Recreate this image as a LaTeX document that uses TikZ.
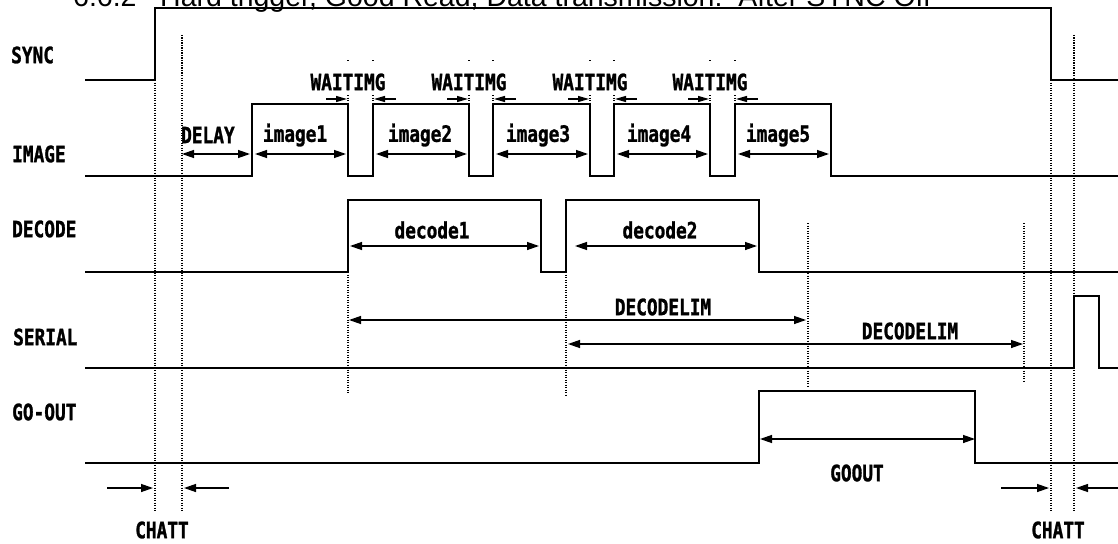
\documentclass[tikz,border=0pt]{standalone}
\usepackage{fontspec}
\usetikzlibrary{arrows.meta}
\newfontfamily\gfont[FakeStretch=0.79,FakeBold=1.2]{DejaVu Sans Mono}
\newfontfamily\tfont{Liberation Sans}
\begin{document}
\begin{tikzpicture}[x=1pt,y=-1pt,
  sig/.style={line width=1.5pt, line join=miter},
  dotl/.style={line width=1.25pt, dash pattern=on 1.2pt off 1.3pt},
  dim/.style={line width=1.3pt, {Triangle[length=12pt,width=8pt]}-{Triangle[length=12pt,width=8pt]}},
  rarr/.style={line width=1.3pt, -{Triangle[length=12pt,width=8pt]}},
  smarr/.style={line width=1.2pt, -{Triangle[length=11pt,width=6pt]}},
  lbl/.style={font=\gfont\bfseries\fontsize{22.5}{26}\selectfont, inner sep=0pt},
  ttl/.style={font=\tfont\fontsize{28.5}{30}\selectfont, inner sep=0pt, anchor=base west}]
\clip (0,0) rectangle (1118,543);
\fill[white] (0,0) rectangle (1118,543);

% title (cut off at the top)
\node[ttl] (num) at (73,6.5) {6.6.2};
\node[ttl] (title) at (160,6.5) {Hard trigger, Good Read, Data transmission:\ \ After SYNC Off};

% signal names
\node[lbl, anchor=west] (sync) at (11,55) {SYNC};
\node[lbl, anchor=west] (image) at (12,154) {IMAGE};
\node[lbl, anchor=west] (decode) at (12,229) {DECODE};
\node[lbl, anchor=west] (serial) at (13,337) {SERIAL};
\node[lbl, anchor=west] (goout) at (12,412) {GO-OUT};

% dotted guide lines
\draw[dotl] (155,80) -- (155,512);
\draw[dotl] (182,35) -- (182,512);
\draw[dotl] (1051,80) -- (1051,512);
\draw[dotl] (1074,35) -- (1074,512);
\draw[dotl] (348,272) -- (348,393);
\draw[dotl] (566,272) -- (566,395);
\draw[dotl] (808,223) -- (808,386);
\draw[dotl] (1024,223) -- (1024,382);
\foreach \x in {348,373,469,493,590,614,710,735}{
  \draw[dotl] (\x,60.5) -- (\x,61.5);
  \draw[dotl] (\x,95) -- (\x,104);
}

% waveforms
\draw[sig] (85,80) -| (155,8) -| (1051,80) -- (1118,80);
\draw[sig] (85,176) -| (252,104) -| (348,176) -| (373,104) -| (469,176) -| (493,104)
  -| (590,176) -| (614,104) -| (710,176) -| (735,104) -| (831,176) -- (1118,176);
\draw[sig] (85,272) -| (348,200) -| (541,272) -| (566,200) -| (759,272) -- (1118,272);
\draw[sig] (85,368) -| (1074,296) -| (1099,368) -- (1118,368);
\draw[sig] (85,463) -| (759,391) -| (975,463) -- (1118,463);

% IMAGE timing
\coordinate (dl1) at (182,154); \coordinate (dl2) at (250,154);
\coordinate (i1a) at (255,154); \coordinate (i1b) at (346,154);
\coordinate (i2a) at (376,154); \coordinate (i2b) at (467,154);
\coordinate (i3a) at (496,154); \coordinate (i3b) at (588,154);
\coordinate (i4a) at (617,154); \coordinate (i4b) at (708,154);
\coordinate (i5a) at (738,154); \coordinate (i5b) at (829,154);
\draw[dim] (dl1) -- (dl2);
\draw[dim] (i1a) -- (i1b);
\draw[dim] (i2a) -- (i2b);
\draw[dim] (i3a) -- (i3b);
\draw[dim] (i4a) -- (i4b);
\draw[dim] (i5a) -- (i5b);
\node[lbl, anchor=west] (delay) at (181,135) {DELAY};
\node[lbl] (img1) at (295,135) {image1};
\node[lbl] (img2) at (420,135) {image2};
\node[lbl] (img3) at (538,135) {image3};
\node[lbl] (img4) at (659,135) {image4};
\node[lbl] (img5) at (778,135) {image5};

% WAITIMG
\foreach \f/\r/\n in {348/373/1,469/493/2,590/614/3,710/735/4}{
  \node[lbl] (w\n) at (\f,82) {WAITIMG};
  \coordinate (wa\n) at (\f-22,99); \coordinate (wb\n) at (\f-1,99);
  \coordinate (wc\n) at (\r+23,99); \coordinate (wd\n) at (\r+1,99);
  \draw[smarr] (wa\n) -- (wb\n);
  \draw[smarr] (wc\n) -- (wd\n);
}

% DECODE timing
\coordinate (d1a) at (350,246); \coordinate (d1b) at (539,246);
\coordinate (d2a) at (575,246); \coordinate (d2b) at (757,246);
\draw[dim] (d1a) -- (d1b);
\draw[dim] (d2a) -- (d2b);
\node[lbl] (dec1) at (432,230) {decode1};
\node[lbl] (dec2) at (660,230) {decode2};

% DECODELIM
\coordinate (l1a) at (349,320); \coordinate (l1b) at (806,320);
\coordinate (l2a) at (568,344); \coordinate (l2b) at (1023,344);
\draw[dim] (l1a) -- (l1b);
\draw[dim] (l2a) -- (l2b);
\node[lbl] (lim1) at (663,307) {DECODELIM};
\node[lbl] (lim2) at (910,331) {DECODELIM};

% GOOUT
\coordinate (g1) at (760,439); \coordinate (g2) at (975,439);
\draw[dim] (g1) -- (g2);
\node[lbl] (goo) at (857,473) {GOOUT};

% CHATT
\coordinate (c1) at (107,488); \coordinate (c2) at (153,488);
\coordinate (c3) at (229,488); \coordinate (c4) at (184,488);
\coordinate (c5) at (1001,488); \coordinate (c6) at (1049,488);
\coordinate (c7) at (1118,488); \coordinate (c8) at (1076,488);
\draw[rarr] (c1) -- (c2);
\draw[rarr] (c3) -- (c4);
\draw[rarr] (c5) -- (c6);
\draw[rarr] (c7) -- (c8);
\node[lbl] (ch1) at (162,530) {CHATT};
\node[lbl] (ch2) at (1058,530) {CHATT};
\end{tikzpicture}
\end{document}
